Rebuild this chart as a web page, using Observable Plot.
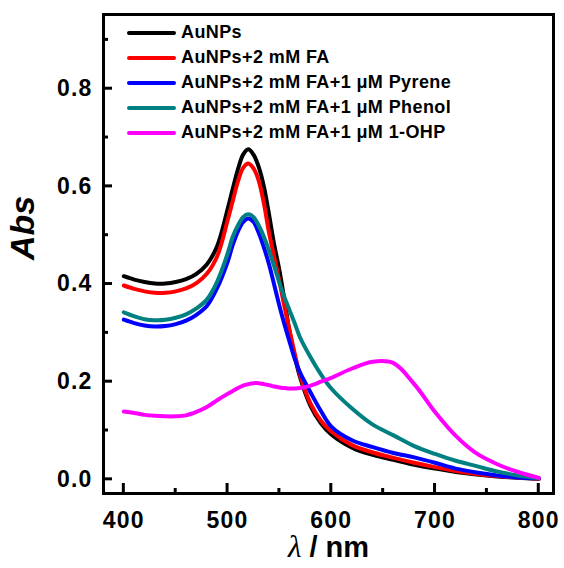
<!DOCTYPE html>
<html>
<head>
<meta charset="utf-8">
<script src="https://cdn.jsdelivr.net/npm/d3@7"></script>
<script src="https://cdn.jsdelivr.net/npm/@observablehq/plot@0.6"></script>
<style>
  html, body { margin: 0; padding: 0; background: #fff; }
  #wrap { position: relative; width: 564px; height: 568px; font-family: "Liberation Sans", Arial, sans-serif; }
  #legend { position: absolute; left: 127px; top: 20px; }
  .row { display: flex; align-items: center; height: 25px; }
  .sw { width: 49px; height: 4px; margin-right: 5px; border-radius: 2px; }
  .lab { font-weight: bold; font-size: 18px; letter-spacing: 0.4px; color: #000; white-space: nowrap; }
</style>
</head>
<body>
<div id="wrap"><div id="legend"></div></div>
<script>
const wavelength = [400,410,420,430,440,450,460,470,480,490,500,505,510,515,520,525,530,535,540,545,550,555,560,565,570,580,590,600,620,640,660,680,700,720,740,760,780,800];

const auNPs   = [0.416,0.409,0.404,0.401,0.401,0.404,0.410,0.421,0.440,0.478,0.553,0.595,0.635,0.665,0.676,0.665,0.640,0.600,0.542,0.480,0.428,0.365,0.300,0.250,0.208,0.150,0.115,0.092,0.065,0.050,0.040,0.030,0.022,0.015,0.010,0.006,0.003,0.001];
const auFA    = [0.397,0.390,0.385,0.382,0.382,0.385,0.391,0.402,0.421,0.457,0.530,0.570,0.610,0.638,0.647,0.637,0.612,0.565,0.505,0.455,0.405,0.352,0.303,0.255,0.213,0.155,0.120,0.098,0.070,0.055,0.044,0.034,0.025,0.017,0.011,0.007,0.004,0.001];
const auPyrene= [0.327,0.320,0.315,0.313,0.314,0.318,0.325,0.337,0.355,0.392,0.445,0.480,0.508,0.527,0.534,0.527,0.505,0.475,0.440,0.398,0.355,0.316,0.280,0.245,0.218,0.178,0.140,0.108,0.080,0.066,0.054,0.045,0.034,0.022,0.014,0.008,0.004,0.002];
const auPhenol= [0.342,0.334,0.328,0.326,0.327,0.331,0.338,0.350,0.368,0.405,0.462,0.497,0.520,0.537,0.543,0.537,0.520,0.497,0.468,0.436,0.402,0.372,0.345,0.318,0.290,0.250,0.215,0.186,0.145,0.112,0.090,0.068,0.052,0.038,0.027,0.016,0.008,0.002];
const au1OHP  = [0.139,0.136,0.132,0.130,0.129,0.129,0.131,0.138,0.148,0.162,0.175,0.181,0.187,0.192,0.195,0.197,0.197,0.195,0.193,0.190,0.188,0.187,0.186,0.186,0.187,0.192,0.200,0.208,0.227,0.241,0.238,0.195,0.138,0.089,0.053,0.031,0.015,0.003];

const seriesNames = ["AuNPs", "AuNPs+2 mM FA", "AuNPs+2 mM FA+1 μM Pyrene", "AuNPs+2 mM FA+1 μM Phenol", "AuNPs+2 mM FA+1 μM 1-OHP"];
const seriesValues = [auNPs, auFA, auPyrene, auPhenol, au1OHP];
const seriesColors = ["#000000", "#ff0000", "#0000ff", "#008080", "#ff00ff"];

const xMajor = [400, 500, 600, 700, 800];
const xMinor = [450, 550, 650, 750];
const yMajor = [0.0, 0.2, 0.4, 0.6, 0.8];
const yMinor = [0.1, 0.3, 0.5, 0.7, 0.9];

const rows = [];
seriesNames.forEach((name, i) => {
  wavelength.forEach((w, j) => rows.push({series: name, wl: w, abs: seriesValues[i][j]}));
});

const W = 564, H = 568, mL = 103, mR = 11, mT = 14, mB = 75;

const plot = Plot.plot({
  width: W, height: H,
  marginLeft: mL, marginRight: mR, marginTop: mT, marginBottom: mB,
  x: {domain: [380.4, 814.2]},
  y: {domain: [-0.029, 0.952]},
  color: {domain: seriesNames, range: seriesColors},
  style: {fontFamily: "'Liberation Sans', Arial, sans-serif", background: "white", color: "black"},
  marks: [
    Plot.axisX(xMajor, {tickSize: 0, tickPadding: 18, fontSize: 23, fontWeight: "bold", tickFormat: d => String(d), label: null}),
    Plot.axisY(yMajor, {tickSize: 0, tickPadding: 11, fontSize: 23, fontWeight: "bold", tickFormat: d => d.toFixed(1), label: null}),
    Plot.line(rows, {x: "wl", y: "abs", z: "series", stroke: "series", strokeWidth: 4, curve: "catmull-rom"}),
    Plot.frame({stroke: "black", strokeWidth: 3}),
    Plot.text(["Abs"], {frameAnchor: "left", dx: -80, dy: 6, rotate: -90, fontSize: 34, fontWeight: "bold", fontStyle: "italic"}),
    Plot.text(["λ / nm"], {frameAnchor: "bottom", dy: 63, fontSize: 29, fontWeight: "bold"})
  ]
});

const svg = d3.select(plot);

// inward-pointing ticks, positioned with Plot's own x / y scales
const sx = plot.scale("x"), sy = plot.scale("y");
const bottom = H - mB, left = mL;
const tg = svg.append("g").attr("aria-label", "inward ticks").attr("stroke", "black").attr("stroke-width", 3);
const addTick = (x1, y1, x2, y2) => tg.append("line").attr("x1", x1).attr("y1", y1).attr("x2", x2).attr("y2", y2);
xMajor.forEach(v => addTick(sx.apply(v), bottom, sx.apply(v), bottom - 10));
xMinor.forEach(v => addTick(sx.apply(v), bottom, sx.apply(v), bottom - 5));
yMajor.forEach(v => addTick(left, sy.apply(v), left + 9, sy.apply(v)));
yMinor.forEach(v => addTick(left, sy.apply(v), left + 5, sy.apply(v)));

svg.selectAll("text").filter(function() { return this.textContent === "λ / nm"; })
  .each(function() {
    const t = d3.select(this);
    t.text(null);
    t.append("tspan").attr("font-style", "italic").attr("font-weight", "normal").attr("font-family", "'Liberation Serif', serif").attr("font-size", 31).text("λ");
    t.append("tspan").text(" / nm");
  });
svg.selectAll("g[aria-label$='tick label'] text").attr("letter-spacing", "1.2px");

document.getElementById("wrap").prepend(plot);
plot.style.position = "absolute"; plot.style.left = "0"; plot.style.top = "0";

const legend = d3.select("#legend");
seriesNames.forEach((name, i) => {
  const r = legend.append("div").attr("class", "row");
  r.append("div").attr("class", "sw").style("background", seriesColors[i]);
  r.append("div").attr("class", "lab").text(name);
});
</script>
</body>
</html>
